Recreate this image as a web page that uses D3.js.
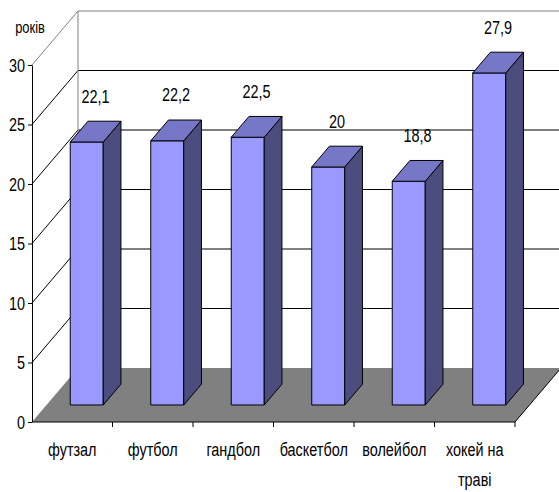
<!DOCTYPE html>
<html>
<head>
<meta charset="utf-8">
<script src="https://cdn.jsdelivr.net/npm/d3@7"></script>
<style>
  html, body { margin: 0; padding: 0; background: #fff; }
  svg { display: block; }
  text { font-family: "Liberation Sans", Arial, sans-serif; fill: #000; }
</style>
</head>
<body>
<svg id="chart" width="559" height="492"></svg>
<script>
// Average age by sport (years)
const categories = ["футзал", "футбол", "гандбол", "баскетбол", "волейбол", "хокей на траві"];
const values = [22.1, 22.2, 22.5, 20, 18.8, 27.9];
const yTicks = [0, 5, 10, 15, 20, 25, 30];
const unitLabel = "років";

const W = 559, H = 492;
const svg = d3.select("#chart");

// oblique projection of the 3D box: depth z in [0,1]
const DX = 46, DY = 54;
const proj = (x, y, z) => [x + z * DX, y - z * DY];
const Z0 = 0.315, Z1 = 0.70;          // bar depth span
const SX = 0.76;                       // horizontal squeeze of the type
const FS = 19;

const x0 = 32, x1 = 515;
const y = d3.scaleLinear().domain([0, 30]).range([422, 65]);
const xCat = d3.scaleBand().domain(categories).range([x0, x1]).padding(0);
const xBar = d3.scaleBand().domain(categories).range([x0, x1])
  .paddingInner(0.59).paddingOuter(0.295);

const poly = pts => pts.map(p => p.join(",")).join(" ");

// walls: gridlines on the side and back walls
const grid = svg.append("g");
yTicks.filter(v => v > 0).forEach(v => {
  const top = v === 30;
  const col = top ? "#808080" : "#000";
  const a = proj(x0, y(v), 0), b = proj(x0, y(v), 1), c = proj(x1, y(v), 1);
  grid.append("line").attr("x1", a[0]).attr("y1", a[1]).attr("x2", b[0]).attr("y2", b[1])
    .attr("stroke", col).attr("stroke-width", 1);
  grid.append("line").attr("x1", b[0]).attr("y1", b[1]).attr("x2", c[0]).attr("y2", c[1])
    .attr("stroke", col).attr("stroke-width", 1);
});
{
  const a = proj(x0, y(0), 1), b = proj(x0, y(30), 1);
  grid.append("line").attr("x1", a[0]).attr("y1", a[1]).attr("x2", b[0]).attr("y2", b[1])
    .attr("stroke", "#808080").attr("stroke-width", 1);
}

// floor
const floorPts = [proj(x0, y(0), 0), proj(x1, y(0), 0), proj(x1, y(0), 1), proj(x0, y(0), 1)];
svg.append("polygon").attr("points", poly(floorPts)).attr("fill", "#808080");
{
  const a = proj(x1, y(0), 0), b = proj(x1, y(0), 1);
  svg.append("line").attr("x1", a[0]).attr("y1", a[1]).attr("x2", b[0]).attr("y2", b[1])
    .attr("stroke", "#000").attr("stroke-width", 1);
}

// bars
const bars = svg.append("g").selectAll("g").data(categories).join("g");
bars.each(function (c, i) {
  const g = d3.select(this);
  const v = values[i];
  const L = xBar(c), R = xBar(c) + xBar.bandwidth();
  const yb = y(0), yt = y(v);
  const front = [proj(L, yb, Z0), proj(R, yb, Z0), proj(R, yt, Z0), proj(L, yt, Z0)];
  const side = [proj(R, yb, Z0), proj(R, yb, Z1), proj(R, yt, Z1), proj(R, yt, Z0)];
  const topF = [proj(L, yt, Z0), proj(R, yt, Z0), proj(R, yt, Z1), proj(L, yt, Z1)];
  g.append("polygon").attr("points", poly(front)).attr("fill", "#9999ff")
    .attr("stroke", "#000").attr("stroke-width", 1).attr("stroke-linejoin", "round");
  g.append("polygon").attr("points", poly(side)).attr("fill", "#4c4c7f")
    .attr("stroke", "#000").attr("stroke-width", 1).attr("stroke-linejoin", "round");
  g.append("polygon").attr("points", poly(topF)).attr("fill", "#7777c8")
    .attr("stroke", "#000").attr("stroke-width", 1).attr("stroke-linejoin", "round");

  // value label above the bar
  const mid = proj((L + R) / 2, yt, (Z0 + Z1) / 2);
  g.append("text")
    .attr("transform", `translate(${mid[0]},${mid[1] - 29}) scale(${SX},1)`)
    .attr("text-anchor", "middle").attr("font-size", FS)
    .text(String(v).replace(".", ","));
});

// y axis
const yAxis = svg.append("g").attr("transform", `translate(${x0},0)`)
  .call(d3.axisLeft(y).tickValues(yTicks).tickSize(4).tickSizeOuter(0).tickPadding(3)
    .tickFormat(d => String(d)));
yAxis.select(".domain").attr("stroke", "#000");
yAxis.selectAll(".tick line").attr("stroke", "#000");
yAxis.selectAll(".tick text")
  .attr("font-family", "\"Liberation Sans\", Arial, sans-serif")
  .attr("font-size", FS).attr("fill", "#000")
  .attr("x", -7 / SX).attr("transform", `scale(${SX},1)`);

// x axis: baseline, ticks at category boundaries, labels
const xg = svg.append("g");
xg.append("line").attr("x1", x0).attr("y1", y(0)).attr("x2", x1).attr("y2", y(0))
  .attr("stroke", "#000").attr("stroke-width", 1);
categories.forEach(c => {
  const bx = xCat(c) + xCat.bandwidth();
  xg.append("line").attr("x1", bx).attr("y1", y(0)).attr("x2", bx).attr("y2", y(0) + 5)
    .attr("stroke", "#000").attr("stroke-width", 1);
});
categories.forEach(c => {
  const cx = xCat(c) + xCat.bandwidth() / 2;
  const t = xg.append("text")
    .attr("transform", `translate(${cx},${y(0) + 34}) scale(${SX},1)`)
    .attr("text-anchor", "middle").attr("font-size", FS);
  // wrap onto a second line when the name is wider than its category
  t.text(c);
  if (t.node().getComputedTextLength() * SX > xCat.bandwidth() - 4 && c.includes(" ")) {
    const k = c.lastIndexOf(" ");
    t.text(null);
    t.append("tspan").attr("x", 0).attr("dy", 0).text(c.slice(0, k));
    t.append("tspan").attr("x", 0).attr("dy", 30).text(c.slice(k + 1));
  }
});

// unit label
svg.append("text")
  .attr("transform", `translate(30,33) scale(${SX},1)`)
  .attr("text-anchor", "middle").attr("font-size", 17).text(unitLabel);
</script>
</body>
</html>
